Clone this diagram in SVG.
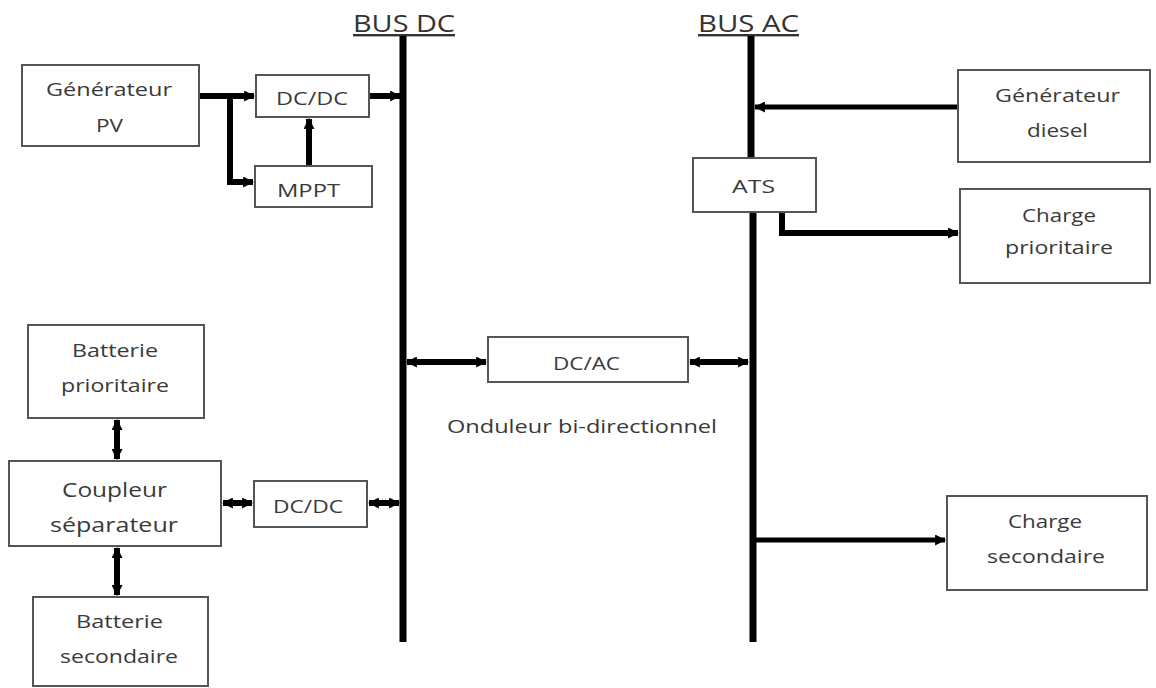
<svg xmlns="http://www.w3.org/2000/svg" width="1156" height="688" viewBox="0 0 1156 688">
<style>
.box{fill:#fff;stroke:#555;stroke-width:2}
.t{font-family:"Open Sans","Liberation Sans",sans-serif;fill:#3a3a3a;text-anchor:middle;font-size:18px}
.s20{font-size:20px}
.bus{stroke:#000;stroke-width:7;fill:none}
.c{stroke:#000;stroke-width:6;fill:none}
.c5{stroke:#000;stroke-width:5;fill:none}
.h{font-family:"Open Sans","Liberation Sans",sans-serif;font-size:24px;fill:#333;text-decoration:underline}
</style>
<defs>
<marker id="a" viewBox="0 0 10 10" refX="9" refY="5" markerWidth="11" markerHeight="11" markerUnits="userSpaceOnUse" orient="auto-start-reverse">
<path d="M0,0 L10,5 L0,10 z" fill="#000"/>
</marker>
</defs>
<rect width="1156" height="688" fill="#fff"/>
<g id="bus-dc">
<text class="h" x="353" y="32" textLength="102" lengthAdjust="spacingAndGlyphs">BUS DC</text>
<line class="bus" x1="403" y1="36" x2="403" y2="642"/>
</g>
<g id="bus-ac">
<text class="h" x="698" y="32" textLength="101" lengthAdjust="spacingAndGlyphs">BUS AC</text>
<line class="bus" x1="751" y1="36" x2="751" y2="159"/>
<line class="bus" x1="753" y1="212" x2="753" y2="642"/>
</g>
<g id="connectors">
<path class="c" d="M199,96 H254" marker-end="url(#a)"/>
<path class="c" d="M230,96 V182 H253" marker-end="url(#a)"/>
<path class="c" d="M309,166 V119" marker-end="url(#a)"/>
<path class="c" d="M369,96 H400" marker-end="url(#a)"/>
<path class="c5" d="M958,107 H755" marker-end="url(#a)"/>
<path class="c" d="M782,213 V233 H958" marker-end="url(#a)"/>
<path class="c" d="M407,362 H486" marker-start="url(#a)" marker-end="url(#a)"/>
<path class="c" d="M690,362 H748" marker-start="url(#a)" marker-end="url(#a)"/>
<path class="c" d="M117,420 V459" marker-start="url(#a)" marker-end="url(#a)"/>
<path class="c" d="M117,548 V595" marker-start="url(#a)" marker-end="url(#a)"/>
<path class="c" d="M223,503 H252" marker-start="url(#a)" marker-end="url(#a)"/>
<path class="c" d="M369,503 H399" marker-start="url(#a)" marker-end="url(#a)"/>
<path class="c5" d="M756,540 H945" marker-end="url(#a)"/>
</g>
<g id="gen-pv">
<rect class="box" x="22" y="65" width="177" height="81"/>
<text class="t" x="109" y="96" textLength="126" lengthAdjust="spacingAndGlyphs">Générateur</text>
<text class="t" x="109.5" y="132" textLength="27" lengthAdjust="spacingAndGlyphs">PV</text>
</g>
<g id="dcdc-top">
<rect class="box" x="256" y="75" width="113" height="42"/>
<text class="t" x="312" y="105" textLength="72" lengthAdjust="spacingAndGlyphs">DC/DC</text>
</g>
<g id="mppt">
<rect class="box" x="255" y="166" width="117" height="41"/>
<text class="t" x="308.5" y="197" textLength="63" lengthAdjust="spacingAndGlyphs">MPPT</text>
</g>
<g id="gen-diesel">
<rect class="box" x="958" y="70" width="192" height="92"/>
<text class="t" x="1057.5" y="102" textLength="125" lengthAdjust="spacingAndGlyphs">Générateur</text>
<text class="t" x="1057.5" y="137" textLength="61" lengthAdjust="spacingAndGlyphs">diesel</text>
</g>
<g id="ats">
<rect class="box" x="693" y="158" width="123" height="54"/>
<text class="t" x="753.5" y="193" textLength="43" lengthAdjust="spacingAndGlyphs">ATS</text>
</g>
<g id="charge-prio">
<rect class="box" x="960" y="189" width="190" height="94"/>
<text class="t" x="1059" y="222" textLength="74" lengthAdjust="spacingAndGlyphs">Charge</text>
<text class="t" x="1059" y="254" textLength="108" lengthAdjust="spacingAndGlyphs">prioritaire</text>
</g>
<g id="dcac">
<rect class="box" x="488" y="337" width="200" height="45"/>
<text class="t" x="586.5" y="370" textLength="67" lengthAdjust="spacingAndGlyphs">DC/AC</text>
</g>
<g id="onduleur-label">
<text class="t" x="582" y="433" textLength="270" lengthAdjust="spacingAndGlyphs">Onduleur bi-directionnel</text>
</g>
<g id="batt-prio">
<rect class="box" x="28" y="325" width="176" height="93"/>
<text class="t" x="115" y="357" textLength="86" lengthAdjust="spacingAndGlyphs">Batterie</text>
<text class="t" x="115" y="392" textLength="108" lengthAdjust="spacingAndGlyphs">prioritaire</text>
</g>
<g id="coupleur">
<rect class="box" x="9" y="461" width="212" height="85"/>
<text class="t s20" x="114.5" y="497" textLength="105" lengthAdjust="spacingAndGlyphs">Coupleur</text>
<text class="t s20" x="114" y="532" textLength="128" lengthAdjust="spacingAndGlyphs">séparateur</text>
</g>
<g id="dcdc-bottom">
<rect class="box" x="254" y="481" width="113" height="46"/>
<text class="t" x="308" y="513" textLength="70" lengthAdjust="spacingAndGlyphs">DC/DC</text>
</g>
<g id="batt-sec">
<rect class="box" x="33" y="597" width="175" height="89"/>
<text class="t" x="119.5" y="628" textLength="87" lengthAdjust="spacingAndGlyphs">Batterie</text>
<text class="t" x="119" y="663" textLength="118" lengthAdjust="spacingAndGlyphs">secondaire</text>
</g>
<g id="charge-sec">
<rect class="box" x="947" y="496" width="200" height="94"/>
<text class="t" x="1045" y="528" textLength="74" lengthAdjust="spacingAndGlyphs">Charge</text>
<text class="t" x="1046" y="563" textLength="118" lengthAdjust="spacingAndGlyphs">secondaire</text>
</g>
</svg>
